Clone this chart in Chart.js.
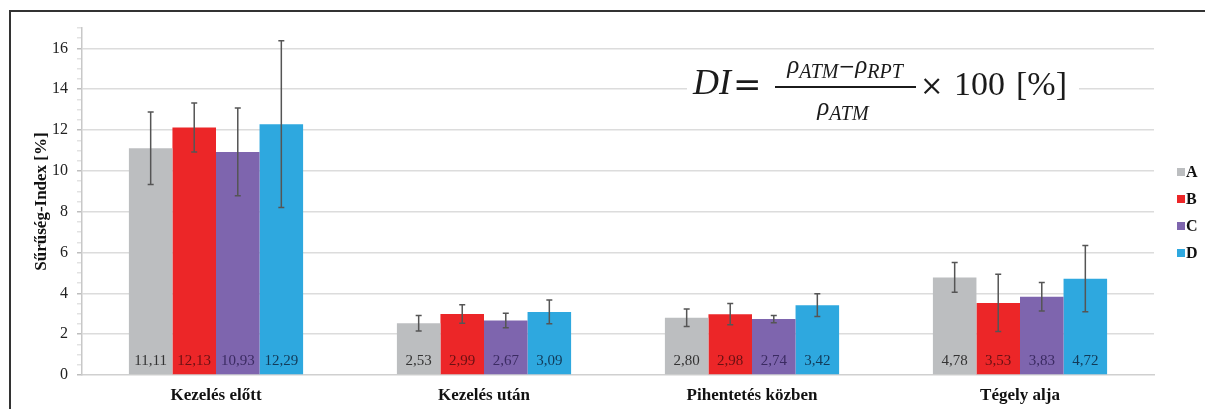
<!DOCTYPE html>
<html>
<head>
<meta charset="utf-8">
<title>Sűrűség-Index</title>
<script src="https://cdn.jsdelivr.net/npm/chart.js@4/dist/chart.umd.min.js"></script>
<style>
  html, body { margin: 0; padding: 0; background: #fff; }
  #wrap { position: relative; width: 1205px; height: 409px; overflow: hidden; }
  #frame { position: absolute; left: 9px; top: 10px; width: 1300px; height: 500px;
           border-left: 2px solid #333; border-top: 2px solid #333; pointer-events: none; }
</style>
</head>
<body>
<div id="wrap">
  <canvas id="chart" width="1205" height="409"></canvas>
  <div id="frame"></div>
</div>
<script>
// data
const categories = ['Kezelés előtt', 'Kezelés után', 'Pihentetés közben', 'Tégely alja'];
const seriesNames = ['A', 'B', 'C', 'D'];
const valuesA = [11.11, 2.53, 2.80, 4.78];
const valuesB = [12.13, 2.99, 2.98, 3.53];
const valuesC = [10.93, 2.67, 2.74, 3.83];
const valuesD = [12.29, 3.09, 3.42, 4.72];
// error bar half-widths (estimated)
const errorA = [1.78, 0.38, 0.43, 0.73];
const errorB = [1.20, 0.45, 0.52, 1.40];
const errorC = [2.15, 0.36, 0.18, 0.70];
const errorD = [4.08, 0.58, 0.56, 1.62];
const yTicks = [0, 2, 4, 6, 8, 10, 12, 14, 16];

const barColors = ['#bcbec0', '#ec2628', '#7e65ae', '#2ea8df'];
const labelColors = ['#333333', '#6a1113', '#3b2b62', '#123a58'];
const serif = '"Liberation Serif", "Times New Roman", serif';
const mathSym = '"DejaVu Serif", serif';

const allValues = [valuesA, valuesB, valuesC, valuesD];
const allErrors = [errorA, errorB, errorC, errorD];

const datasets = seriesNames.map((name, i) => ({
  label: name,
  data: allValues[i],
  errors: allErrors[i],
  backgroundColor: barColors[i],
  labelColor: labelColors[i],
  borderWidth: 0,
  categoryPercentage: 0.65,
  barPercentage: 1.0
}));

// error bars + value labels inside bars
const barExtras = {
  id: 'barExtras',
  afterDatasetsDraw(chart) {
    const ctx = chart.ctx;
    const y = chart.scales.y;
    chart.data.datasets.forEach((ds, di) => {
      const meta = chart.getDatasetMeta(di);
      meta.data.forEach((bar, i) => {
        const v = ds.data[i], e = ds.errors[i];
        const top = y.getPixelForValue(v + e);
        const bot = y.getPixelForValue(v - e);
        ctx.save();
        ctx.strokeStyle = '#555';
        ctx.lineWidth = 1.5;
        ctx.beginPath();
        ctx.moveTo(bar.x, top); ctx.lineTo(bar.x, bot);
        ctx.moveTo(bar.x - 3, top); ctx.lineTo(bar.x + 3, top);
        ctx.moveTo(bar.x - 3, bot); ctx.lineTo(bar.x + 3, bot);
        ctx.stroke();
        ctx.fillStyle = ds.labelColor;
        ctx.font = '15px ' + serif;
        ctx.textAlign = 'center';
        ctx.textBaseline = 'middle';
        ctx.fillText(v.toFixed(2).replace('.', ','), bar.x, y.getPixelForValue(0) - 14);
        ctx.restore();
      });
    });
  }
};

// legend on the right
const sideLegend = {
  id: 'sideLegend',
  afterDraw(chart) {
    const ctx = chart.ctx;
    const area = chart.chartArea;
    ctx.save();
    ctx.font = 'bold 16px ' + serif;
    ctx.textBaseline = 'middle';
    chart.data.datasets.forEach((ds, i) => {
      const cy = 172 + i * 27;
      ctx.fillStyle = ds.backgroundColor;
      ctx.fillRect(area.right + 23, cy - 4, 8, 8);
      ctx.fillStyle = '#111';
      ctx.fillText(ds.label, area.right + 32, cy + 1);
    });
    ctx.restore();
  }
};

// draws a run of [text, font, dy] pieces centred on cx
function drawRun(ctx, pieces, cx, base) {
  let w = 0;
  pieces.forEach(p => { ctx.font = p[1]; w += ctx.measureText(p[0]).width; });
  let x = cx - w / 2;
  pieces.forEach(p => {
    ctx.font = p[1];
    ctx.fillText(p[0], x, base + (p[2] || 0));
    x += ctx.measureText(p[0]).width;
  });
}

// DI formula in the upper right
const formula = {
  id: 'formula',
  beforeDatasetsDraw(chart) {
    const ctx = chart.ctx;
    const rho = 'italic 25px ' + serif;
    const sub = 'italic 20px ' + serif;
    ctx.save();
    ctx.fillStyle = '#fff';
    ctx.fillRect(687, 62, 392, 64);
    ctx.fillStyle = '#1b1b1b';
    ctx.strokeStyle = '#1b1b1b';
    ctx.textBaseline = 'alphabetic';
    ctx.textAlign = 'left';
    ctx.font = 'italic 36px ' + serif;
    ctx.fillText('DI', 693, 94);
    ctx.font = '34px ' + mathSym;
    ctx.fillText('=', 733, 96);
    drawRun(ctx, [['ρ', rho], ['ATM', sub, 5], ['−', '20px ' + mathSym], ['ρ', rho], ['RPT', sub, 5]], 845, 73);
    ctx.lineWidth = 2;
    ctx.beginPath();
    ctx.moveTo(775, 87); ctx.lineTo(916, 87);
    ctx.stroke();
    drawRun(ctx, [['ρ', rho], ['ATM', sub, 5]], 843, 115);
    ctx.font = '28px ' + mathSym;
    ctx.fillText('×', 920, 95);
    ctx.font = '34px ' + serif;
    ctx.fillText('100', 954, 95);
    ctx.fillText('[%]', 1016, 95);
    ctx.restore();
  }
};

new Chart(document.getElementById('chart'), {
  type: 'bar',
  data: { labels: categories, datasets: datasets },
  plugins: [formula, barExtras, sideLegend],
  options: {
    responsive: false,
    animation: false,
    layout: { padding: { top: 28, right: 51, left: 0, bottom: 0 } },
    plugins: { legend: { display: false }, tooltip: { enabled: false } },
    scales: {
      x: {
        afterFit(s) { s.height = 34; },
        grid: { display: false, drawTicks: false },
        border: { color: '#d0d0d0', width: 1.5 },
        ticks: { color: '#111', font: { family: serif, size: 17, weight: 'bold' }, padding: 10 }
      },
      y: {
        min: 0,
        max: 17,
        afterFit(s) { s.width = 82; },
        border: { color: '#c8c8c8', width: 1.5 },
        grid: {
          color: c => yTicks.includes(c.tick.value) && c.tick.value > 0 ? '#dcdcdc' : 'rgba(0,0,0,0)',
          tickColor: c => yTicks.includes(c.tick.value) ? '#bdbdbd' : '#e2e2e2',
          lineWidth: 1.5,
          tickLength: 5
        },
        ticks: {
          stepSize: 0.5,
          autoSkip: false,
          padding: 9,
          color: '#222',
          font: { family: serif, size: 16 },
          callback: v => yTicks.includes(v) ? String(v) : ''
        },
        title: {
          display: true,
          text: 'Sűrűség-Index [%]',
          color: '#111',
          font: { family: serif, size: 17, weight: 'bold' },
          padding: { top: 31, bottom: 0 }
        }
      }
    }
  }
});
</script>
</body>
</html>
